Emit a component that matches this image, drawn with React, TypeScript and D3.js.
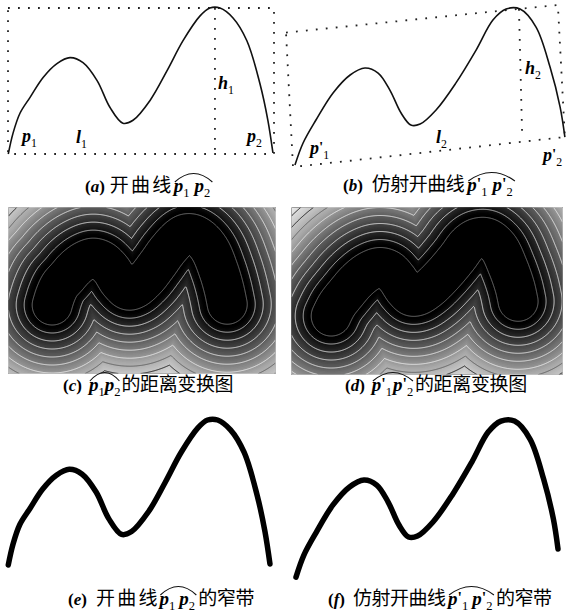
import React, { useEffect, useRef } from 'react';
import * as d3 from 'd3';

// open curve p1p2, in percent of its dotted box (y up)
const curveAX = [0.1, 1.9, 4.5, 8.3, 13.2, 18.4, 23.3, 28.2, 33.5, 38.3, 43.2, 47.0, 53.4, 59.8, 65.8, 72.2, 75.9, 79.7, 84.6, 89.8, 94.7, 97.7, 99.6];
const curveAY = [0, 14.3, 27.9, 38.8, 52.4, 61.9, 66.0, 62.6, 50.3, 32.0, 21.1, 23.1, 36.7, 57.1, 77.6, 94.6, 100, 100, 93.2, 77.6, 48.3, 23.1, 0.7];
const boxAX = [0, 100, 100, 0];
const boxAY = [100, 100, 0, 0];
const heightAX = [77.8, 77.8];
const heightAY = [100, 0];

// affine curve p'1p'2, in percent of panel (b)
const curveBX = [3.2, 6.1, 10.7, 16.8, 22.9, 28.2, 32.9, 37.1, 41.1, 44.6, 47.9, 53.6, 60.7, 67.9, 73.9, 78.6, 83.6, 89.3, 94.3, 97.9, 99.6];
const curveBY = [1.2, 14.8, 29.0, 45.7, 56.8, 61.1, 58.0, 47.5, 33.3, 25.9, 26.5, 35.2, 51.9, 72.2, 90.7, 97.5, 97.5, 86.4, 61.7, 37.0, 18.5];
const boxBX = [0, 97.1, 99.6, 2.5];
const boxBY = [83, 100, 18.5, 0];
const heightBX = [83.2, 84.3];
const heightBY = [97.5, 22.2];

// distance levels (px) of the iso lines in (c) and (d)
const levels = [20, 28, 36, 44, 52, 60, 68, 76, 84, 92, 100];

const labelBaseA = ['p', 'l', 'h', 'p'];
const labelSubA = ['1', '1', '1', '2'];
const labelBaseB = ['p', 'l', 'h', 'p'];
const labelSubB = ['1', '2', '2', '2'];
const labelPrimeB = [true, false, false, true];

const tags = ['a', 'b', 'c', 'd', 'e', 'f'];
const leadText = ['开曲线', '仿射开曲线', '', '', '开曲线', '仿射开曲线'];
const tailText = ['', '', '的距离变换图', '的距离变换图', '的窄带', '的窄带'];
const primed = [false, true, false, true, false, true];

const SERIF = '"Liberation Serif", "Times New Roman", serif';
const CJK = '"Noto Sans CJK SC", sans-serif';

type Frame = { x: d3.ScaleLinear<number, number>; y: d3.ScaleLinear<number, number> };
const frame = (xr: number[], yr: number[]): Frame => ({
  x: d3.scaleLinear().domain([0, 100]).range(xr),
  y: d3.scaleLinear().domain([0, 100]).range(yr),
});

const fa = frame([8, 274], [154, 8]);
const fb = frame([286, 566], [167, 5]);
const fc = frame([52, 228], [305, 234]);
const fd = frame([325, 519], [317, 236]);
const fe = frame([8, 271], [565, 420]);
const ff = frame([287.3, 559.1], [579, 417]);

const pts = (xs: number[], ys: number[], f: Frame): [number, number][] =>
  xs.map((x, i) => [f.x(x), f.y(ys[i])] as [number, number]);

const smooth = d3.line().curve(d3.curveCatmullRom.alpha(0.5));
const straight = d3.line();

function dotted(svg: any, p: [number, number][]) {
  svg.append('path')
    .attr('d', straight(p))
    .attr('fill', 'none')
    .attr('stroke', '#222')
    .attr('stroke-width', 1.8)
    .attr('stroke-dasharray', '1.8 8.2');
}

function mathLabel(svg: any, x: number, y: number, base: string, sub: string, prime: boolean, size = 18, extra = 0) {
  const t = svg.append('text')
    .attr('x', x).attr('y', y)
    .attr('font-family', SERIF).attr('font-size', size)
    .attr('font-weight', 'bold').attr('font-style', 'italic');
  t.append('tspan').text(base);
  if (prime) t.append('tspan').attr('font-style', 'normal').attr('font-size', size * 0.85).attr('dy', -2).text("'");
  t.append('tspan')
    .attr('font-size', size * 0.66).attr('font-style', 'normal').attr('font-weight', 'normal')
    .attr('dy', prime ? 7 : 5).text(sub);
  return x + (t.node() as SVGTextElement).getComputedTextLength() + extra;
}

// x, baseline, gap after tag, CJK advance, extra math spacing, tail advance
const capLayout = [
  [85, 192, 5, 20.5, 5, 18.7],
  [343, 191, 9, 18.6, 5, 18.7],
  [63, 391, 7, 18.7, 0, 18.7],
  [345, 391, 7, 18.7, 1, 18.7],
  [68, 605, 9, 20.5, 4, 18.7],
  [328, 605, 8, 18.6, 4, 18.7],
];

function caption(svg: any, k: number) {
  const [x, y, gap, leadAdv, extra, tailAdv] = capLayout[k];
  let cx = x;
  const tag = svg.append('text')
    .attr('x', cx).attr('y', y)
    .attr('font-family', SERIF).attr('font-size', 17).attr('font-weight', 'bold');
  tag.append('tspan').text('(');
  tag.append('tspan').attr('font-style', 'italic').text(tags[k]);
  tag.append('tspan').text(')');
  cx += (tag.node() as SVGTextElement).getComputedTextLength() + gap;
  const lead = leadText[k];
  if (lead) {
    svg.append('text').attr('x', cx).attr('y', y)
      .attr('font-family', CJK).attr('font-size', 19)
      .attr('textLength', lead.length * leadAdv).attr('lengthAdjust', 'spacing')
      .text(lead);
    cx += lead.length * leadAdv + extra * 0.5;
  }
  const mx = cx;
  cx = mathLabel(svg, cx, y, 'p', '1', primed[k], 19, extra);
  cx = mathLabel(svg, cx, y, 'p', '2', primed[k], 19, extra * 0.6);
  svg.append('path')
    .attr('d', `M${mx + 1},${y - 10} Q${(mx + cx) / 2},${y - 27} ${cx - 1},${y - 10}`)
    .attr('fill', 'none').attr('stroke', '#111').attr('stroke-width', 1.1);
  const tail = tailText[k];
  if (tail) {
    svg.append('text').attr('x', cx + 1).attr('y', y)
      .attr('font-family', CJK).attr('font-size', 19)
      .attr('textLength', tail.length * tailAdv).attr('lengthAdjust', 'spacing')
      .text(tail);
  }
}

const gray = d3.scaleLinear<string>()
  .domain([22, 30, 50, 72, 100])
  .range(['#000000', '#191919', '#5a5a5a', '#a8a8a8', '#f4f4f4'])
  .clamp(true);
const lineColor = d3.scaleLinear<string>()
  .domain([20, 32, 72, 78])
  .range(['#7a7a7a', '#e6e6e6', '#eeeeee', '#111111'])
  .clamp(true);

function distanceField(svg: any, curve: [number, number][], x0: number, y0: number, w: number, h: number, id: string) {
  // sample the smooth curve at ~1px steps
  const tmp = svg.append('path').attr('d', smooth(curve)).attr('fill', 'none');
  const node = tmp.node() as SVGPathElement;
  const len = node.getTotalLength();
  const sx: number[] = [];
  const sy: number[] = [];
  for (let s = 0; s <= len; s += 1) {
    const p = node.getPointAtLength(s);
    sx.push(p.x);
    sy.push(p.y);
  }
  tmp.remove();

  const vals = new Array(w * h);
  for (let j = 0; j < h; j++) {
    const py = y0 + j + 0.5;
    for (let i = 0; i < w; i++) {
      const px = x0 + i + 0.5;
      let m = Infinity;
      for (let k = 0; k < sx.length; k++) {
        const dx = sx[k] - px;
        const dy = sy[k] - py;
        const d2 = dx * dx + dy * dy;
        if (d2 < m) m = d2;
      }
      vals[i + j * w] = Math.sqrt(m);
    }
  }

  const g = svg.append('g').attr('transform', `translate(${x0},${y0})`);
  g.append('clipPath').attr('id', id)
    .append('rect').attr('x', 0.8).attr('y', 0.8).attr('width', w - 1.6).attr('height', h - 1.6);
  g.append('rect').attr('width', w).attr('height', h).attr('fill', '#000');
  const geo = d3.geoPath();
  const bands = d3.contours().size([w, h]).thresholds(d3.range(1.5, 130, 1.5))(vals);
  g.selectAll('path.band').data(bands).join('path')
    .attr('class', 'band')
    .attr('d', (d: any) => geo(d))
    .attr('fill', (d: any) => gray(d.value));
  const iso = d3.contours().size([w, h]).thresholds(levels)(vals);
  g.append('g').attr('clip-path', `url(#${id})`)
    .selectAll('path.iso').data(iso).join('path')
    .attr('class', 'iso')
    .attr('d', (d: any) => geo(d))
    .attr('fill', 'none')
    .attr('stroke', (d: any) => lineColor(d.value))
    .attr('stroke-width', 0.9);
}

function draw(svg: any) {
  // (a) open curve
  const boxA = pts(boxAX, boxAY, fa);
  dotted(svg, [...boxA, boxA[0]]);
  dotted(svg, pts(heightAX, heightAY, fa));
  svg.append('path').attr('d', smooth(pts(curveAX, curveAY, fa)))
    .attr('fill', 'none').attr('stroke', '#111').attr('stroke-width', 1.6);
  const posA = [[22, 142], [76, 143], [218, 89], [247, 142]];
  labelBaseA.forEach((b, i) => mathLabel(svg, posA[i][0], posA[i][1], b, labelSubA[i], false));

  // (b) affine open curve
  const boxB = pts(boxBX, boxBY, fb);
  dotted(svg, [...boxB, boxB[0]]);
  dotted(svg, pts(heightBX, heightBY, fb));
  svg.append('path').attr('d', smooth(pts(curveBX, curveBY, fb)))
    .attr('fill', 'none').attr('stroke', '#111').attr('stroke-width', 1.6);
  const posB = [[310, 154], [436, 143], [525, 74], [543, 161]];
  labelBaseB.forEach((b, i) => mathLabel(svg, posB[i][0], posB[i][1], b, labelSubB[i], labelPrimeB[i]));

  // (c), (d) distance transforms
  distanceField(svg, pts(curveAX, curveAY, fc), 8, 207, 268, 167, 'clipC');
  distanceField(svg, pts(curveBX, curveBY, fd), 291, 207, 272, 168, 'clipD');

  // (e), (f) narrow bands
  [[curveAX, curveAY, fe], [curveBX, curveBY, ff]].forEach(([xs, ys, f]: any) => {
    svg.append('path').attr('d', smooth(pts(xs, ys, f)))
      .attr('fill', 'none').attr('stroke', '#000').attr('stroke-width', 5.5)
      .attr('stroke-linecap', 'round').attr('stroke-linejoin', 'round');
  });

  tags.forEach((_, k) => caption(svg, k));
}

export default function App() {
  const ref = useRef<SVGSVGElement>(null);
  useEffect(() => {
    const svg = d3.select(ref.current);
    svg.selectAll('*').remove();
    draw(svg);
  }, []);
  return (
    <svg
      ref={ref}
      width={566}
      height={614}
      style={{ position: 'absolute', left: 0, top: 0, background: '#fff' }}
    />
  );
}
